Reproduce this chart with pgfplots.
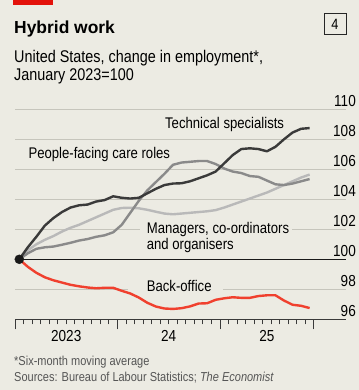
\documentclass[border=0pt]{standalone}
\usepackage{pgfplots}
\pgfplotsset{compat=1.18}
\usepackage{fontspec}
\setmainfont{Liberation Sans}[FakeStretch=0.85]
\newfontfamily\titlefont{Liberation Sans}
\definecolor{bg}{HTML}{ECEBE3}
\definecolor{econred}{HTML}{E3120B}
\definecolor{linered}{HTML}{F0402E}
\definecolor{techc}{HTML}{3A3A3A}
\definecolor{peoplec}{HTML}{8A8A8A}
\definecolor{managc}{HTML}{B9B9B9}
\definecolor{gridc}{HTML}{C6C5BC}
\definecolor{notec}{HTML}{555555}

\pgfplotstableread{
x y
0.5 100
1.5 100.8
2.5 101.5
3.5 102.25
4.5 102.75
5.5 103.15
6.5 103.45
7.5 103.6
8.5 103.65
9.5 103.85
10.5 103.95
11.5 104.2
12.5 104.1
13.5 104.05
14.5 104.1
15.5 104.4
16.5 104.7
17.5 104.95
18.5 105.05
19.5 105.07
20.5 105.2
21.5 105.4
22.5 105.6
23.5 105.85
24.5 106.4
25.5 106.95
26.5 107.35
27.5 107.4
28.5 107.35
29.5 107.2
30.5 107.5
31.5 108.0
32.5 108.45
33.5 108.7
34.5 108.75
}\tech

\pgfplotstableread{
x y
0.5 100
1.5 100.4
2.5 100.7
3.5 100.8
4.5 100.85
5.5 100.97
6.5 101.1
7.5 101.25
8.5 101.35
9.5 101.5
10.5 101.6
11.5 101.8
12.5 102.3
13.5 103.1
14.5 103.9
15.5 104.6
16.5 105.15
17.5 105.7
18.5 106.3
19.5 106.45
20.5 106.5
21.5 106.55
22.5 106.55
23.5 106.35
24.5 106.05
25.5 105.85
26.5 105.75
27.5 105.55
28.5 105.5
29.5 105.25
30.5 105.0
31.5 104.95
32.5 105.05
33.5 105.2
34.5 105.35
}\people

\pgfplotstableread{
x y
0.5 100
1.5 100.6
2.5 101.0
3.5 101.3
4.5 101.55
5.5 101.85
6.5 102.1
7.5 102.3
8.5 102.55
9.5 102.8
10.5 103.05
11.5 103.3
12.5 103.42
13.5 103.44
14.5 103.4
15.5 103.3
16.5 103.17
17.5 103.05
18.5 103.0
19.5 103.05
20.5 103.1
21.5 103.15
22.5 103.2
23.5 103.28
24.5 103.45
25.5 103.65
26.5 103.85
27.5 104.05
28.5 104.25
29.5 104.45
30.5 104.7
31.5 104.95
32.5 105.2
33.5 105.45
34.5 105.65
}\manag

\pgfplotstableread{
x y
0.5 100
1.5 99.5
2.5 99.1
3.5 98.8
4.5 98.6
5.5 98.45
6.5 98.3
7.5 98.2
8.5 98.12
9.5 98.07
10.5 98.1
11.5 98.1
12.5 97.9
13.5 97.72
14.5 97.45
15.5 97.1
16.5 96.85
17.5 96.72
18.5 96.69
19.5 96.74
20.5 96.86
21.5 97.05
22.5 97.07
23.5 97.3
24.5 97.4
25.5 97.47
26.5 97.43
27.5 97.43
28.5 97.55
29.5 97.6
30.5 97.6
31.5 97.25
32.5 96.97
33.5 96.9
34.5 96.75
}\back

\begin{document}
\begin{tikzpicture}
\path[use as bounding box, fill=bg] (0bp,0bp) rectangle (359bp,390bp);
\fill[econred] (13.3bp,385bp) rectangle (53.3bp,390bp);
\node[anchor=base west, inner sep=0, font=\titlefont\bfseries\fontsize{17.5}{20}\selectfont] at (14bp,356.7bp) {Hybrid work};
\draw[line width=1bp, black!85] (324bp,355bp) rectangle (346bp,376.7bp);
\node[font=\fontsize{15}{15}\selectfont, inner sep=0] at (335bp,365.8bp) {4};
\node[anchor=base west, inner sep=0, font=\fontsize{17}{18}\selectfont] at (14bp,327bp) {United States, change in employment*,};
\node[anchor=base west, inner sep=0, font=\fontsize{17}{18}\selectfont] at (14bp,309bp) {January 2023=100};
\node[anchor=base west, inner sep=0, text=notec, font=\fontsize{13}{14}\selectfont] at (14bp,25bp) {*Six-month moving average};
\node[anchor=base west, inner sep=0, text=notec, font=\fontsize{13}{14}\selectfont] at (14bp,8.3bp) {Sources: Bureau of Labour Statistics; \textit{The Economist}};

\begin{axis}[
  at={(15bp,70.7bp)}, anchor=south west,
  scale only axis, width=331bp, height=210bp,
  xmin=0, xmax=38.76, ymin=96, ymax=110,
  clip=false,
  axis line style={draw=none},
  xtick={0,12,24,35}, xticklabels={},
  minor xtick={1,...,34},
  xtick pos=bottom, tick align=outside,
  major tick length=10bp, minor tick length=5bp,
  xtick style={draw=techc, line width=0.9bp},
  minor tick style={draw=techc, line width=0.9bp},
  ytick={96,98,102,104,106,108,110},
  ytick style={draw=none},
  ymajorgrids, grid style={gridc, line width=0.8bp},
  extra y ticks={100}, extra y tick labels={100},
  extra y tick style={grid style={black!90, line width=1.2bp}, ytick style={draw=none}},
  yticklabel pos=right,
  /pgf/number format/assume math mode=true,
  yticklabel style={anchor=base east, inner sep=0, xshift=0bp, yshift=3bp, font=\fontsize{16}{16}\selectfont},
]
\draw[techc, line width=1.2bp] (axis cs:0,96) -- (axis cs:38.76,96);
\fill[bg] (axis cs:14.64,101.88) rectangle (axis cs:32.44,102.12);
\fill[bg] (axis cs:13.23,97.88) rectangle (axis cs:24.36,98.12);
\node[anchor=base west, inner sep=0, font=\fontsize{15.5}{16}\selectfont] at (axis cs:17.56,108.75) {Technical specialists};
\node[anchor=base west, inner sep=0, font=\fontsize{15.5}{16}\selectfont] at (axis cs:1.56,106.73) {People-facing care roles};
\node[anchor=base west, inner sep=0, font=\fontsize{15.5}{16}\selectfont] at (axis cs:15.42,101.69) {Managers, co-ordinators};
\node[anchor=base west, inner sep=0, font=\fontsize{15.5}{16}\selectfont] at (axis cs:15.42,100.62) {and organisers};
\node[anchor=base west, inner sep=0, font=\fontsize{15.5}{16}\selectfont] at (axis cs:15.42,97.84) {Back-office};
\node[anchor=base, inner sep=0, font=\fontsize{16}{16}\selectfont] at (axis cs:6,94.51) {2023};
\node[anchor=base, inner sep=0, font=\fontsize{16}{16}\selectfont] at (axis cs:18,94.51) {24};
\node[anchor=base, inner sep=0, font=\fontsize{16}{16}\selectfont] at (axis cs:29.5,94.51) {25};
\addplot[managc, line width=2.4bp, line join=round] table[x=x,y=y] {\manag};
\addplot[peoplec, line width=2.4bp, line join=round] table[x=x,y=y] {\people};
\addplot[techc, line width=2.4bp, line join=round] table[x=x,y=y] {\tech};
\addplot[linered, line width=2.4bp, line join=round] table[x=x,y=y] {\back};
\addplot[only marks, mark=*, mark size=4.5bp, black!90] coordinates {(0.5,100)};
\end{axis}
\end{tikzpicture}
\end{document}
